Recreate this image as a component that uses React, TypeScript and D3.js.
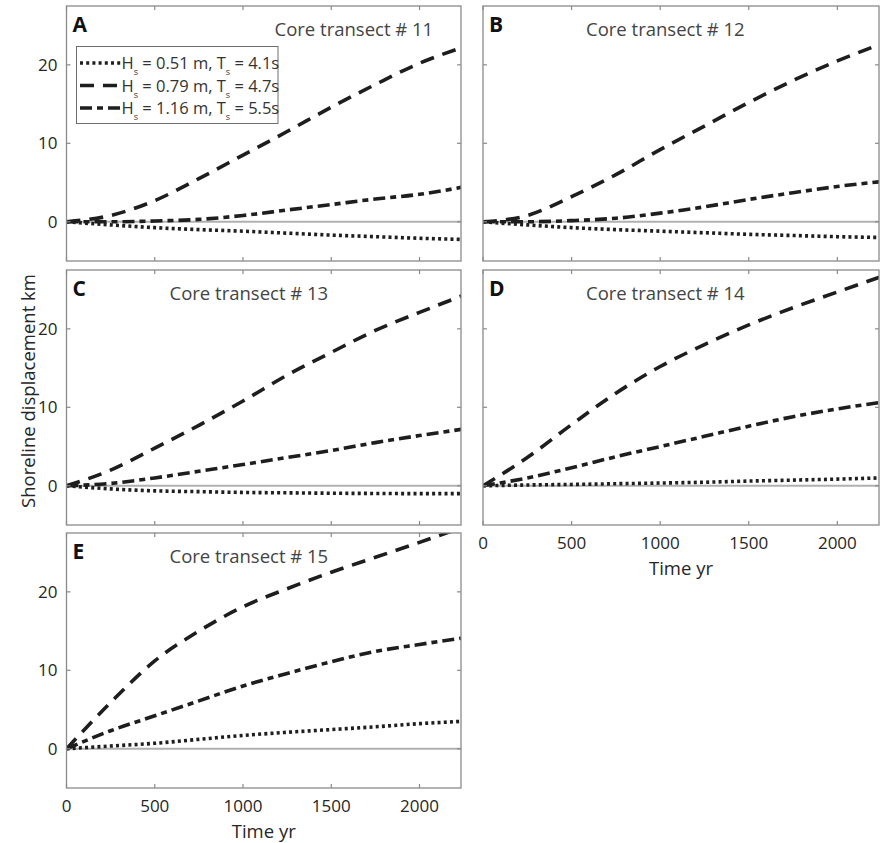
import React from "react";
import * as d3 from "d3";

const years = [0, 250, 500, 750, 1000, 1250, 1500, 1750, 2000, 2240];

// Transect 11
const t11Low = [0, -0.4, -0.75, -1.0, -1.2, -1.45, -1.7, -1.9, -2.1, -2.25];
const t11Mid = [0, 0.8, 2.7, 5.5, 8.5, 11.5, 14.6, 17.5, 20.2, 22.2];
const t11High = [0, 0.0, 0.1, 0.3, 0.8, 1.5, 2.2, 2.9, 3.5, 4.4];
// Transect 12
const t12Low = [0, -0.4, -0.75, -1.0, -1.2, -1.4, -1.6, -1.75, -1.9, -2.0];
const t12Mid = [0, 0.8, 3.2, 6.0, 9.2, 12.2, 15.2, 18.0, 20.5, 22.6];
const t12High = [0, 0.0, 0.15, 0.45, 1.1, 1.9, 2.85, 3.7, 4.5, 5.1];
// Transect 13
const t13Low = [0, -0.4, -0.65, -0.75, -0.85, -0.9, -0.95, -0.98, -1.0, -1.0];
const t13Mid = [0, 2.0, 4.8, 7.7, 10.8, 14.1, 17.0, 19.8, 22.1, 24.2];
const t13High = [0, 0.3, 1.0, 1.85, 2.7, 3.6, 4.5, 5.5, 6.4, 7.2];
// Transect 14
const t14Low = [0, 0.1, 0.17, 0.26, 0.35, 0.45, 0.6, 0.72, 0.85, 1.0];
const t14Mid = [0, 3.6, 7.8, 11.8, 15.2, 18.0, 20.5, 22.7, 24.7, 26.6];
const t14High = [0, 1.0, 2.3, 3.7, 5.0, 6.3, 7.6, 8.8, 9.8, 10.6];
// Transect 15
const t15Low = [0, 0.35, 0.7, 1.2, 1.7, 2.1, 2.45, 2.8, 3.2, 3.5];
const t15Mid = [0, 5.9, 11.2, 15.0, 18.1, 20.4, 22.5, 24.4, 26.3, 28.2];
const t15High = [0, 2.3, 4.2, 6.1, 8.0, 9.6, 11.1, 12.4, 13.3, 14.1];

const xTicks = [0, 500, 1000, 1500, 2000];
const yTicks = [0, 10, 20];
const legendLabels = [
  { h: "0.51", t: "4.1" },
  { h: "0.79", t: "4.7" },
  { h: "1.16", t: "5.5" },
];

const panels = [
  { letter: "A", id: 11, col: 0, row: 0, series: [t11Low, t11Mid, t11High], xlabels: false, legend: true },
  { letter: "B", id: 12, col: 1, row: 0, series: [t12Low, t12Mid, t12High], xlabels: false, legend: false },
  { letter: "C", id: 13, col: 0, row: 1, series: [t13Low, t13Mid, t13High], xlabels: false, legend: false },
  { letter: "D", id: 14, col: 1, row: 1, series: [t14Low, t14Mid, t14High], xlabels: true, legend: false },
  { letter: "E", id: 15, col: 0, row: 2, series: [t15Low, t15Mid, t15High], xlabels: true, legend: false },
];

const dashes = ["3 3.2", "14 9", "12 5 6 5"];
const FONT = "'Open Sans', Lato, sans-serif";
const colLeft = [66.5, 483];
const colWidth = [394.5, 396];
const rowTop = [6, 270, 533];
const PH = 255;
const frameColor = "#8a8a8a";
const lineColor = "#1e1e1e";

function Panel({ p }: { p: any }) {
  const left = colLeft[p.col];
  const top = rowTop[p.row];
  const w = colWidth[p.col];
  const x = d3.scaleLinear().domain([0, 2235]).range([0, w]);
  const y = d3.scaleLinear().domain([-5, 27.5]).range([PH, 0]);
  const line = d3
    .line<number>()
    .x((_, i) => x(years[i]))
    .y((d) => y(d))
    .curve(d3.curveMonotoneX);
  const clipId = `clip-${p.letter}`;
  return (
    <g transform={`translate(${left},${top})`}>
      <defs>
        <clipPath id={clipId}>
          <rect x={0} y={0} width={w} height={PH} />
        </clipPath>
      </defs>
      <rect x={0} y={0} width={w} height={PH} fill="white" />
      <line x1={0} x2={w} y1={y(0)} y2={y(0)} stroke="#b0b0b0" strokeWidth={2} />
      <g clipPath={`url(#${clipId})`}>
        {p.series.map((s: number[], i: number) => (
          <path
            key={i}
            d={line(s) || ""}
            fill="none"
            stroke={lineColor}
            strokeWidth={3.6}
            strokeDasharray={dashes[i]}
          />
        ))}
      </g>
      <rect x={0} y={0} width={w} height={PH} fill="none" stroke={frameColor} strokeWidth={1.3} />
      {xTicks.map((t) => (
        <g key={"xt" + t}>
          <line x1={x(t)} x2={x(t)} y1={PH} y2={PH - 4} stroke={frameColor} strokeWidth={1.2} />
          <line x1={x(t)} x2={x(t)} y1={0} y2={4} stroke={frameColor} strokeWidth={1.2} />
          {p.xlabels && (
            <text x={x(t)} y={PH + 24} textAnchor="middle" fontSize={17} fill="#262626" fontFamily={FONT}>
              {t}
            </text>
          )}
        </g>
      ))}
      {yTicks.map((t) => (
        <g key={"yt" + t}>
          <line x1={0} x2={4} y1={y(t)} y2={y(t)} stroke={frameColor} strokeWidth={1.2} />
          <line x1={w} x2={w - 4} y1={y(t)} y2={y(t)} stroke={frameColor} strokeWidth={1.2} />
          {p.col === 0 && (
            <text x={-9} y={y(t) + 6} textAnchor="end" fontSize={17} fill="#262626" fontFamily={FONT}>
              {t}
            </text>
          )}
        </g>
      ))}
      {p.xlabels && (
        <text x={w / 2} y={PH + 50} textAnchor="middle" fontSize={18.5} fill="#262626" fontFamily={FONT}>
          Time yr
        </text>
      )}
      <text x={6} y={26} fontSize={21} fontWeight="bold" fill="#111" fontFamily={FONT}>
        {p.letter}
      </text>
      <text x={p.legend ? 208 : 103} y={30} fontSize={18.5} fill="#444" fontFamily={FONT}>
        {`Core transect # ${p.id}`}
      </text>
      {p.legend && (
        <g transform="translate(10,40.5)">
          <rect x={0} y={0} width={201.5} height={77} fill="white" stroke="#6e6e6e" strokeWidth={1} />
          {legendLabels.map((l, i) => {
            const cy = 16.5 + i * 22.5;
            return (
              <g key={i}>
                <line
                  x1={3.5}
                  x2={44}
                  y1={cy}
                  y2={cy}
                  stroke={lineColor}
                  strokeWidth={3.6}
                  strokeDasharray={dashes[i]}
                />
                <text x={45} y={cy + 6} fontSize={16.5} fill="#333" fontFamily={FONT}>
                  H
                  <tspan fontSize={9} dy={6}>s</tspan>
                  <tspan dy={-6}>{` = ${l.h} m, T`}</tspan>
                  <tspan fontSize={9} dy={6}>s</tspan>
                  <tspan dy={-6}>{` = ${l.t}s`}</tspan>
                </text>
              </g>
            );
          })}
        </g>
      )}
    </g>
  );
}

export default function App() {
  return (
    <svg width={885} height={843} style={{ position: "absolute", left: 0, top: 0, background: "white" }}>
      <rect x={0} y={0} width={885} height={843} fill="white" />
      {panels.map((p) => (
        <Panel key={p.letter} p={p} />
      ))}
      <text
        transform="translate(35,391) rotate(-90)"
        textAnchor="middle"
        fontSize={18.5}
        fill="#262626"
        fontFamily={FONT}
      >
        Shoreline displacement km
      </text>
    </svg>
  );
}
